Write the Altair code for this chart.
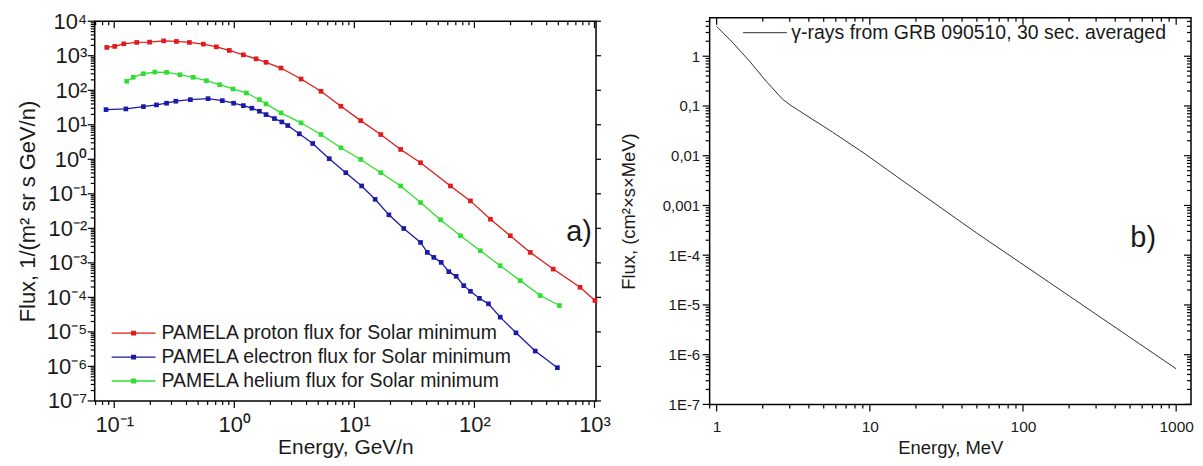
import math
import altair as alt
import pandas as pd

FONT = "Liberation Sans"

# ---------------- panel a) : PAMELA fluxes ----------------
energy_proton = [0.0867, 0.101, 0.120, 0.154, 0.197, 0.258, 0.330, 0.423, 0.553, 0.709,
                 0.909, 1.19, 1.52, 1.84, 2.45, 3.60, 5.27, 7.73, 11.3, 16.6,
                 24.3, 35.6, 63.2, 92.7, 136, 199, 292, 453, 758, 1009]
flux_proton = [1742, 1862, 2213, 2427, 2477, 2700, 2594, 2427, 2168, 1811,
               1426, 1064, 816, 643, 440, 212, 93.5, 34.5, 13.2, 5.22,
               1.93, 0.796, 0.169, 0.0624, 0.0184, 0.0061, 0.00201, 6.6e-4, 1.96e-4, 8.1e-5]

energy_electron = [0.0855, 0.125, 0.175, 0.225, 0.273, 0.326, 0.431, 0.605, 0.795, 0.987,
                   1.19, 1.40, 1.62, 1.84, 2.16, 2.49, 2.79, 3.48, 4.50, 6.18,
                   8.49, 11.5, 14.9, 19.4, 25.8, 35.6, 40.5, 45.9, 52.9, 61.2,
                   70.5, 81.5, 92.7, 110, 131, 164, 222, 321, 491]
flux_electron = [27.5, 28.8, 33.6, 37.6, 42.1, 48.1, 53.5, 57.1, 50.0, 42.1,
                 35.9, 30.2, 24.7, 19.7, 15.1, 12.1, 9.49, 5.47, 2.87, 1.04,
                 0.409, 0.169, 0.0693, 0.0246, 0.0099, 0.0039, 0.00201, 0.00144, 0.00103, 5.56e-4,
                 4.07e-4, 2.19e-4, 1.50e-4, 9.4e-5, 6.5e-5, 2.67e-5, 9.4e-6, 2.79e-6, 9.2e-7]

energy_helium = [0.127, 0.144, 0.175, 0.218, 0.273, 0.352, 0.454, 0.586, 0.755, 0.975,
                 1.26, 1.62, 1.84, 2.45, 3.60, 5.27, 7.73, 11.3, 16.6, 24.3,
                 35.6, 52.2, 76.5, 112, 164, 241, 353, 510]
flux_helium = [182, 237, 301, 337, 330, 282, 237, 189, 145, 109,
               83.4, 53.5, 40.2, 22.1, 11.4, 5.22, 2.16, 0.99, 0.409, 0.169,
               0.0557, 0.0177, 0.0061, 0.00225, 8.3e-4, 3.06e-4, 1.13e-4, 5.8e-5]

series_a = ["PAMELA proton flux for Solar minimum",
            "PAMELA electron flux for Solar minimum",
            "PAMELA helium flux for Solar minimum"]
colors_a = ["#e01a1a", "#1a1aa6", "#2fdf2f"]

label_a_text = ["a)"]
label_a_energy = [745]
label_a_flux = [7.6e-3]

# ---------------- panel b) : GRB 090510 gamma rays ----------------
energy_gamma = [1.0, 1.28, 1.64, 2.10, 2.70, 3.06, 3.47, 5.71, 9.42, 15.1,
                49.9, 100, 1000]
flux_gamma = [3.98, 1.85, 0.794, 0.316, 0.136, 0.102, 0.0794, 0.0298, 0.0106, 0.00375,
              2.78e-4, 6.5e-5, 5.2e-7]
series_b = ["γ-rays from GRB 090510, 30 sec. averaged"]
colors_b = ["#333333"]

label_b_text = ["b)"]
label_b_energy = [609]
label_b_flux = [2.26e-4]

# ---------------- tables ----------------
df_a = pd.concat([
    pd.DataFrame({"E": energy_proton, "F": flux_proton, "series": series_a[0]}),
    pd.DataFrame({"E": energy_electron, "F": flux_electron, "series": series_a[1]}),
    pd.DataFrame({"E": energy_helium, "F": flux_helium, "series": series_a[2]}),
], ignore_index=True)
df_b = pd.DataFrame({"E": energy_gamma, "F": flux_gamma, "series": series_b[0]})
df_la = pd.DataFrame({"E": label_a_energy, "F": label_a_flux, "t": label_a_text})
df_lb = pd.DataFrame({"E": label_b_energy, "F": label_b_flux, "t": label_b_text})


def log_ticks(lo, hi):
    major, minor = [], []
    for e in range(math.floor(math.log10(lo)), math.ceil(math.log10(hi)) + 1):
        for m in range(1, 10):
            v = float(f"{m}e{e}")
            if lo * (1 - 1e-9) <= v <= hi * (1 + 1e-9):
                (major if m == 1 else minor).append(v)
    return major, minor


EXP = "round(log(datum.value)/LN10)"


def sup_label():
    s = f"toString({EXP})"
    for d, sd in zip("-0123456789", "⁻⁰¹²³⁴⁵⁶⁷⁸⁹"):
        s = f"replace({s}, '{d}', '{sd}')"
    return f"'10' + {s}"


B_Y_LABEL = (f"{EXP} >= 0 ? toString(round(pow(10, {EXP}))) : "
             f"{EXP} == -1 ? '0,1' : {EXP} == -2 ? '0,01' : {EXP} == -3 ? '0,001' : "
             f"'1E' + toString({EXP})")
B_X_LABEL = f"toString(round(pow(10, {EXP})))"

TICK = dict(color="black", strokeWidth=1.2)

# legend symbol: a line with a small solid square built from stroked strokes
LEG_SYMBOL = ("M-1,0H1 M-0.115,-0.08H0.115 M-0.115,-0.04H0.115 M-0.115,0H0.115 "
              "M-0.115,0.04H0.115 M-0.115,0.08H0.115")


def tick_layers(xs, ys, xmaj, xmin, ymaj, ymin, W, H, right_inward, right_len):
    out = []
    for vals, L in ((xmaj, 7), (xmin, 4)):
        c = alt.Chart(pd.DataFrame({"v": vals})).mark_rule(**TICK)
        xe = alt.X("v:Q", scale=xs, axis=None)
        out.append(c.encode(x=xe, y=alt.value(H), y2=alt.value(H + L)))   # bottom, outward
        out.append(c.encode(x=xe, y=alt.value(0), y2=alt.value(L)))       # top, inward
    for vals, L in ((ymaj, 7), (ymin, 4)):
        c = alt.Chart(pd.DataFrame({"v": vals})).mark_rule(**TICK)
        ye = alt.Y("v:Q", scale=ys, axis=None)
        out.append(c.encode(y=ye, x=alt.value(-L), x2=alt.value(0)))      # left, outward
        if right_inward:
            out.append(c.encode(y=ye, x=alt.value(W - L), x2=alt.value(W)))
    if not right_inward:
        c = alt.Chart(pd.DataFrame({"v": ymaj})).mark_rule(**TICK)
        out.append(c.encode(y=alt.Y("v:Q", scale=ys, axis=None),
                            x=alt.value(W), x2=alt.value(W + right_len)))
    return out


# ---------------- panel a ----------------
WA, HA = 503, 381
xa_dom = [0.0688, 1030]
ya_dom = [1e-7, 1e4]
xs_a = alt.Scale(type="log", domain=xa_dom, nice=False)
ys_a = alt.Scale(type="log", domain=ya_dom, nice=False)
xmaj_a, xmin_a = log_ticks(*xa_dom)
ymaj_a, ymin_a = log_ticks(*ya_dom)
col_a = alt.Scale(domain=series_a, range=colors_a)

base_a = alt.Chart(df_a)
lines_a = base_a.mark_line(strokeWidth=1.3).encode(
    x=alt.X("E:Q", scale=xs_a, axis=alt.Axis(
        orient="bottom", values=xmaj_a, labelExpr=sup_label(), ticks=False, tickSize=0,
        labelFontSize=22, titleFontSize=21, labelPadding=14, titlePadding=1,
        title="Energy, GeV/n", labelOverlap=False, labelFlush=False)),
    y=alt.Y("F:Q", scale=ys_a, axis=alt.Axis(
        orient="left", values=ymaj_a, labelExpr=sup_label(), ticks=False, tickSize=0,
        labelFontSize=22, titleFontSize=22, labelPadding=8, titlePadding=3,
        minExtent=52, maxExtent=52, title="Flux, 1/(m² sr s GeV/n)",
        labelOverlap=False, labelFlush=False)),
    color=alt.Color("series:N", scale=col_a, legend=alt.Legend(
        title=None, orient="none", legendX=16, legendY=301,
        symbolType=LEG_SYMBOL, symbolSize=1936, symbolStrokeWidth=1.4,
        clipHeight=24, rowPadding=0, padding=0, labelOffset=5,
        labelFontSize=19.5, labelFont=FONT, labelColor="#1a1a1a", labelLimit=600)),
)
squares_a = base_a.mark_square(size=22, opacity=1).encode(
    x=alt.X("E:Q", scale=xs_a, axis=None),
    y=alt.Y("F:Q", scale=ys_a, axis=None),
    color=alt.Color("series:N", scale=col_a, legend=None),
)
text_a = alt.Chart(df_la).mark_text(fontSize=29, font=FONT, color="#1a1a1a").encode(
    x=alt.X("E:Q", scale=xs_a, axis=None),
    y=alt.Y("F:Q", scale=ys_a, axis=None),
    text="t:N",
)
panel_a = alt.layer(
    lines_a, squares_a, text_a,
    *tick_layers(xs_a, ys_a, xmaj_a, xmin_a, ymaj_a, ymin_a, WA, HA, False, 5)
).resolve_axis(x="independent", y="independent").properties(width=WA, height=HA)

# ---------------- panel b ----------------
WB, HB = 483, 388
xb_dom = [0.9, 1250]
yb_dom = [1e-7, 5.94]
xs_b = alt.Scale(type="log", domain=xb_dom, nice=False)
ys_b = alt.Scale(type="log", domain=yb_dom, nice=False)
xmaj_b, xmin_b = log_ticks(*xb_dom)
ymaj_b, ymin_b = log_ticks(*yb_dom)
col_b = alt.Scale(domain=series_b, range=colors_b)

base_b = alt.Chart(df_b)
line_b = base_b.mark_line(strokeWidth=1).encode(
    x=alt.X("E:Q", scale=xs_b, axis=alt.Axis(
        orient="bottom", values=xmaj_b, labelExpr=B_X_LABEL, ticks=False, tickSize=0,
        labelFontSize=15.5, titleFontSize=18.5, labelPadding=15, titlePadding=4,
        title="Energy, MeV", labelOverlap=False, labelFlush=False)),
    y=alt.Y("F:Q", scale=ys_b, axis=alt.Axis(
        orient="left", values=ymaj_b, labelExpr=B_Y_LABEL, ticks=False, tickSize=0,
        labelFontSize=15, titleFontSize=18.5, labelPadding=10, titlePadding=25,
        minExtent=46, maxExtent=46, title="Flux, (cm²×s×MeV)",
        labelOverlap=False, labelFlush=False)),
    color=alt.Color("series:N", scale=col_b, legend=alt.Legend(
        title=None, orient="none", legendX=33, legendY=3,
        symbolType="M-1,0H1", symbolSize=1936, symbolStrokeWidth=1,
        clipHeight=24, padding=0, labelOffset=4, labelFontSize=19.5,
        labelFont=FONT, labelColor="#1a1a1a", labelLimit=600)),
)
text_b = alt.Chart(df_lb).mark_text(fontSize=29, font=FONT, color="#1a1a1a").encode(
    x=alt.X("E:Q", scale=xs_b, axis=None),
    y=alt.Y("F:Q", scale=ys_b, axis=None),
    text="t:N",
)
panel_b = alt.layer(
    line_b, text_b,
    *tick_layers(xs_b, ys_b, xmaj_b, xmin_b, ymaj_b, ymin_b, WB, HB, True, 7)
).resolve_axis(x="independent", y="independent").properties(width=WB, height=HB)

chart = alt.hconcat(panel_a, panel_b, spacing=114, bounds="flush", center=True).resolve_scale(
    color="independent"
).properties(
    padding={"left": 8, "top": 0, "right": 0, "bottom": 0}
).configure_view(
    stroke="black", strokeWidth=1.5
).configure_axis(
    grid=False, domain=False, labelColor="#1a1a1a", titleColor="#1a1a1a",
    labelFont=FONT, titleFont=FONT, titleFontWeight="normal"
)

chart.save("out.html", embed_options={"renderer": "svg", "actions": False})
